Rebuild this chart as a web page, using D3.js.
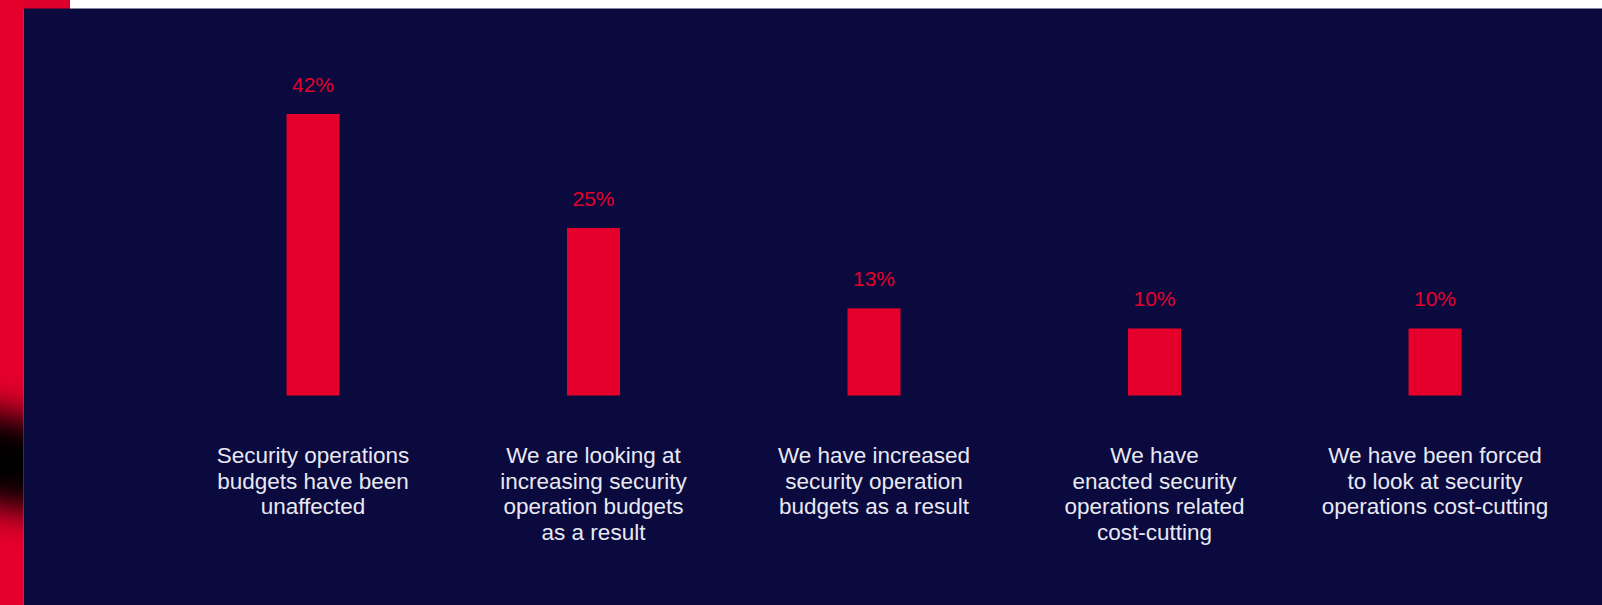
<!DOCTYPE html>
<html>
<head>
<meta charset="utf-8">
<script src="https://cdn.jsdelivr.net/npm/d3@7"></script>
<style>
  html, body { margin: 0; padding: 0; background: #ffffff; }
  svg { display: block; }
</style>
</head>
<body>
<svg id="chart" width="1602" height="605"></svg>
<script>
// Survey responses: impact on security operations budgets
const categories = [
  ["Security operations", "budgets have been", "unaffected"],
  ["We are looking at", "increasing security", "operation budgets", "as a result"],
  ["We have increased", "security operation", "budgets as a result"],
  ["We have", "enacted security", "operations related", "cost-cutting"],
  ["We have been forced", "to look at security", "operations cost-cutting"]
];
const values = [42, 25, 13, 10, 10];
const valueLabels = ["42%", "25%", "13%", "10%", "10%"];

const W = 1602, H = 605;
const NAVY = "#0a0a3f";
const RED = "#e4002b";
const TEXT = "#e9e8f2";
const FONT = "'Liberation Sans', Arial, sans-serif";

const svg = d3.select("#chart");
const defs = svg.append("defs");

// Page background: white top band, red left strip, navy panel
svg.append("rect").attr("x", 0).attr("y", 0).attr("width", W).attr("height", H).attr("fill", "#ffffff");
svg.append("rect").attr("x", 0).attr("y", 0).attr("width", 70).attr("height", 9).attr("fill", "#dd002c");
svg.append("rect").attr("x", 0).attr("y", 0).attr("width", 23.5).attr("height", H).attr("fill", RED);

// Dark smudge across the red strip
const blur = defs.append("filter").attr("id", "smudge")
  .attr("x", "-100%").attr("y", "-100%").attr("width", "300%").attr("height", "300%");
blur.append("feGaussianBlur").attr("stdDeviation", 17);
defs.append("clipPath").attr("id", "stripClip")
  .append("rect").attr("x", 0).attr("y", 0).attr("width", 23.5).attr("height", H);
svg.append("g").attr("clip-path", "url(#stripClip)")
  .append("polygon")
  .attr("points", "-40,405 60,425 60,515 -40,500")
  .attr("fill", "#030003")
  .attr("filter", "url(#smudge)");

svg.append("rect").attr("x", 23.5).attr("y", 8.5).attr("width", W - 23.5).attr("height", H - 8.5).attr("fill", NAVY);

// Scales
const x = d3.scalePoint()
  .domain(d3.range(categories.length))
  .range([313, 1435]);
const y = d3.scaleLinear()
  .domain([0, d3.max(values)])
  .range([395.5, 114]);
const barW = 53;

const g = svg.append("g");

// Bars
g.selectAll("rect.bar")
  .data(values)
  .join("rect")
  .attr("class", "bar")
  .attr("x", (d, i) => x(i) - barW / 2)
  .attr("y", d => y(d))
  .attr("width", barW)
  .attr("height", d => y(0) - y(d))
  .attr("fill", RED);

// Value labels above bars
g.selectAll("text.value")
  .data(values)
  .join("text")
  .attr("class", "value")
  .attr("x", (d, i) => x(i))
  .attr("y", d => y(d) - 22)
  .attr("text-anchor", "middle")
  .attr("font-family", FONT)
  .attr("font-size", 21)
  .attr("fill", RED)
  .text((d, i) => valueLabels[i]);

// Category labels below bars
const lineH = 25.7;
const cat = g.selectAll("text.cat")
  .data(categories)
  .join("text")
  .attr("class", "cat")
  .attr("text-anchor", "middle")
  .attr("font-family", FONT)
  .attr("font-size", 22.5)
  .attr("fill", TEXT);
cat.selectAll("tspan")
  .data((d, i) => d.map((line, j) => ({ line, j, i })))
  .join("tspan")
  .attr("x", d => x(d.i))
  .attr("y", d => 463 + d.j * lineH)
  .text(d => d.line);
</script>
</body>
</html>
